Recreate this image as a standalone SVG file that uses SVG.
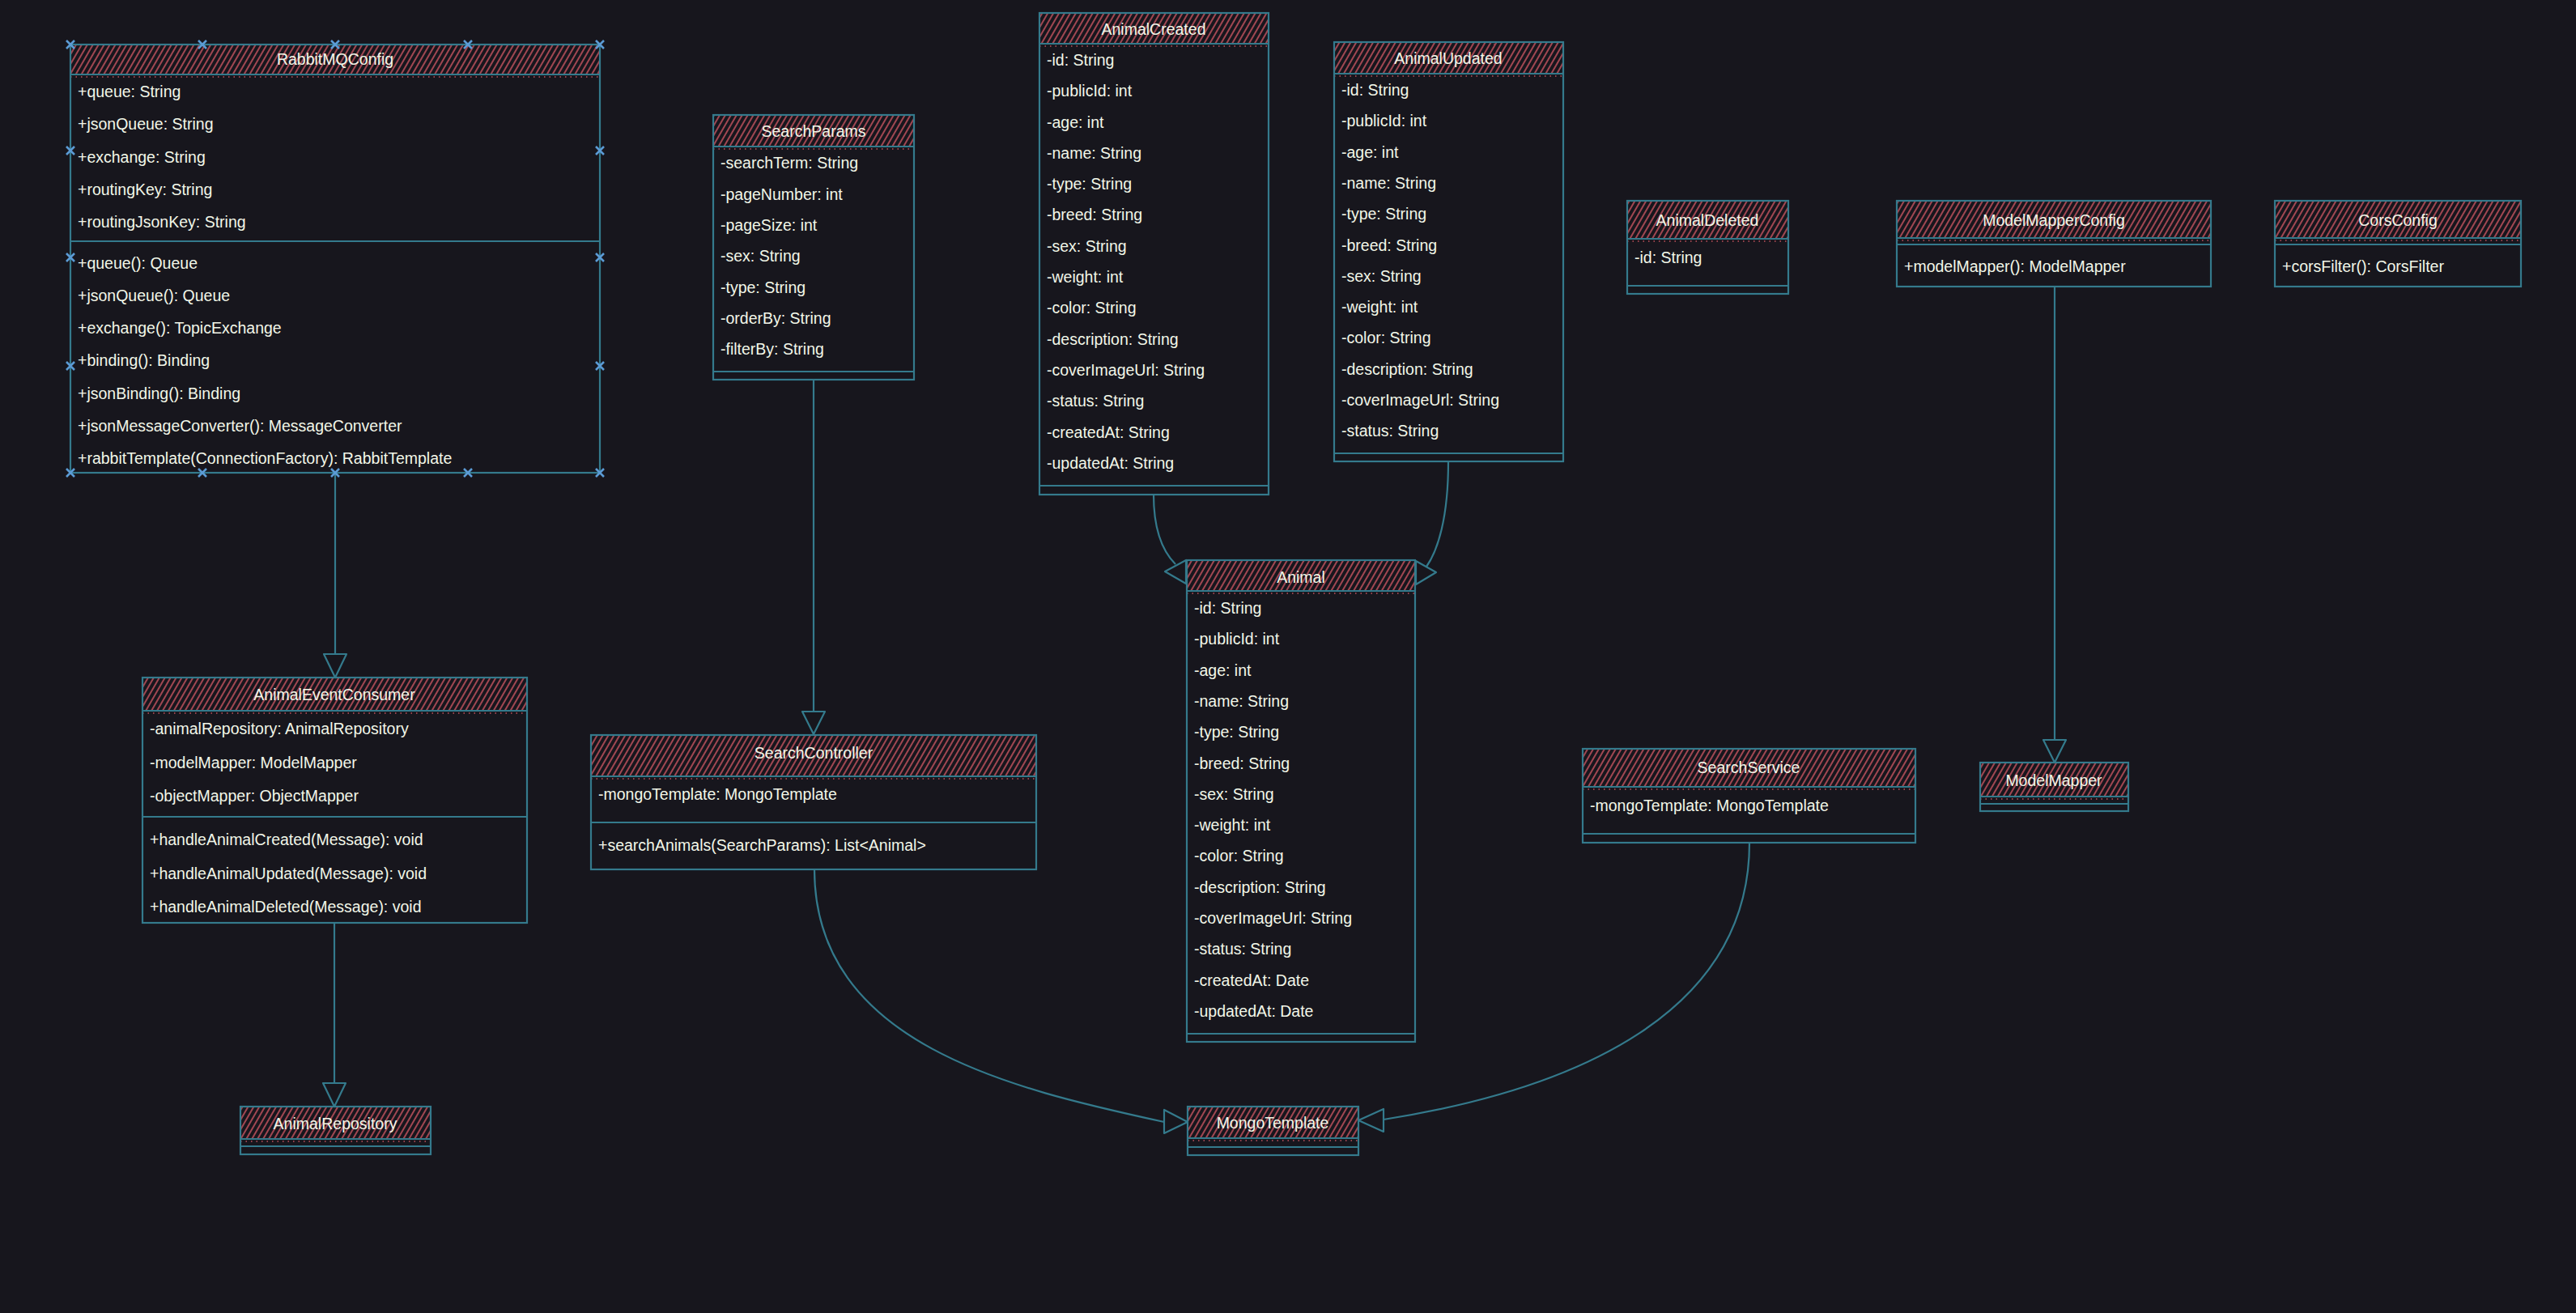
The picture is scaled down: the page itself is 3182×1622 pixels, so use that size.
<svg xmlns="http://www.w3.org/2000/svg" xmlns:xlink="http://www.w3.org/1999/xlink" width="3182" height="1622" viewBox="0 0 3182 1622">
<style>
.box{fill:none;stroke:#347a8c;stroke-width:2.2}
.sep{stroke:#347a8c;stroke-width:2.2}
.hdr{fill:url(#hatch);stroke:none}
.tick{stroke:#c4545f;stroke-width:1.6;stroke-dasharray:1.5 5}
.title{font-family:"Liberation Sans",Arial,sans-serif;font-size:19.5px;fill:#f2f6e8;text-anchor:middle}
.m{font-family:"Liberation Sans",Arial,sans-serif;font-size:19.5px;fill:#f2f6e8}
.edge{fill:none;stroke:#347a8c;stroke-width:2.2}
.head{fill:#17161d;stroke:#347a8c;stroke-width:2.2;stroke-linejoin:round}
.xm{fill:none;stroke:#5b9bd5;stroke-width:2.6}
</style>
<defs>
<pattern id="hatch" width="6" height="6" patternUnits="userSpaceOnUse" patternTransform="rotate(30)">
<line x1="1" y1="0" x2="1" y2="6" stroke="#c4545f" stroke-width="1.6"/>
</pattern>
<path id="xmark" class="xm" d="M-5,-5 L5,5 M-5,5 L5,-5"/>
</defs>
<rect x="0" y="0" width="3182" height="1622" fill="#17161d"/>

<g id="connectors">
<path class="edge" d="M414,584 L414,808"/>
<polygon class="head" points="400,808 428,808 414,837"/>
<path class="edge" d="M1005,469 L1005,879"/>
<polygon class="head" points="991,879 1019,879 1005,907"/>
<path class="edge" d="M413,1140 L413,1338"/>
<polygon class="head" points="399,1338 427,1338 413,1367"/>
<path class="edge" d="M2538,354 L2538,914"/>
<polygon class="head" points="2524,914 2552,914 2538,942"/>
<path class="edge" d="M1425,611 C1425,660 1440,685 1452,697"/>
<polygon class="head" points="1439,706 1465,692 1465,721"/>
<path class="edge" d="M1789,570 C1789,640 1776,680 1762,700"/>
<polygon class="head" points="1774,707 1749,693 1749,722"/>
<path class="edge" d="M1006,1074 C1006,1290 1250,1345 1438,1386"/>
<polygon class="head" points="1467,1386 1438,1371 1438,1400"/>
<path class="edge" d="M2161,1041 C2161,1250 1950,1345 1709,1383"/>
<polygon class="head" points="1678,1384 1709,1370 1709,1398"/>
</g>

<g id="RabbitMQConfig">
<rect class="hdr" x="87" y="55" width="654" height="37"/>
<line class="tick" x1="87" y1="95" x2="741" y2="95"/>
<rect class="box" x="87" y="55" width="654" height="529"/>
<line class="sep" x1="87" y1="92" x2="741" y2="92"/>
<line class="sep" x1="87" y1="298" x2="741" y2="298"/>
<text class="title" x="414" y="80">RabbitMQConfig</text>
<text class="m" x="96" y="120">+queue: String</text>
<text class="m" x="96" y="160">+jsonQueue: String</text>
<text class="m" x="96" y="201">+exchange: String</text>
<text class="m" x="96" y="241">+routingKey: String</text>
<text class="m" x="96" y="281">+routingJsonKey: String</text>
<text class="m" x="96" y="332">+queue(): Queue</text>
<text class="m" x="96" y="372">+jsonQueue(): Queue</text>
<text class="m" x="96" y="412">+exchange(): TopicExchange</text>
<text class="m" x="96" y="452">+binding(): Binding</text>
<text class="m" x="96" y="493">+jsonBinding(): Binding</text>
<text class="m" x="96" y="533">+jsonMessageConverter(): MessageConverter</text>
<text class="m" x="96" y="573">+rabbitTemplate(ConnectionFactory): RabbitTemplate</text>
<use href="#xmark" x="87" y="55"/><use href="#xmark" x="250" y="55"/><use href="#xmark" x="414" y="55"/><use href="#xmark" x="578" y="55"/><use href="#xmark" x="741" y="55"/>
<use href="#xmark" x="87" y="584"/><use href="#xmark" x="250" y="584"/><use href="#xmark" x="414" y="584"/><use href="#xmark" x="578" y="584"/><use href="#xmark" x="741" y="584"/>
<use href="#xmark" x="87" y="186"/><use href="#xmark" x="87" y="318"/><use href="#xmark" x="87" y="452"/>
<use href="#xmark" x="741" y="186"/><use href="#xmark" x="741" y="318"/><use href="#xmark" x="741" y="452"/>
</g>

<g id="SearchParams">
<rect class="hdr" x="881" y="142" width="248" height="39"/>
<line class="tick" x1="881" y1="184" x2="1129" y2="184"/>
<rect class="box" x="881" y="142" width="248" height="327"/>
<line class="sep" x1="881" y1="181" x2="1129" y2="181"/>
<line class="sep" x1="881" y1="459" x2="1129" y2="459"/>
<text class="title" x="1005" y="169">SearchParams</text>
<text class="m" x="890" y="208">-searchTerm: String</text>
<text class="m" x="890" y="247">-pageNumber: int</text>
<text class="m" x="890" y="285">-pageSize: int</text>
<text class="m" x="890" y="323">-sex: String</text>
<text class="m" x="890" y="362">-type: String</text>
<text class="m" x="890" y="400">-orderBy: String</text>
<text class="m" x="890" y="438">-filterBy: String</text>
</g>

<g id="AnimalCreated">
<rect class="hdr" x="1284" y="16" width="283" height="38"/>
<line class="tick" x1="1284" y1="57" x2="1567" y2="57"/>
<rect class="box" x="1284" y="16" width="283" height="595"/>
<line class="sep" x1="1284" y1="54" x2="1567" y2="54"/>
<line class="sep" x1="1284" y1="600" x2="1567" y2="600"/>
<text class="title" x="1425" y="43">AnimalCreated</text>
<text class="m" x="1293" y="81">-id: String</text>
<text class="m" x="1293" y="119">-publicId: int</text>
<text class="m" x="1293" y="158">-age: int</text>
<text class="m" x="1293" y="196">-name: String</text>
<text class="m" x="1293" y="234">-type: String</text>
<text class="m" x="1293" y="272">-breed: String</text>
<text class="m" x="1293" y="311">-sex: String</text>
<text class="m" x="1293" y="349">-weight: int</text>
<text class="m" x="1293" y="387">-color: String</text>
<text class="m" x="1293" y="426">-description: String</text>
<text class="m" x="1293" y="464">-coverImageUrl: String</text>
<text class="m" x="1293" y="502">-status: String</text>
<text class="m" x="1293" y="541">-createdAt: String</text>
<text class="m" x="1293" y="579">-updatedAt: String</text>
</g>

<g id="AnimalUpdated">
<rect class="hdr" x="1648" y="52" width="283" height="39"/>
<line class="tick" x1="1648" y1="94" x2="1931" y2="94"/>
<rect class="box" x="1648" y="52" width="283" height="518"/>
<line class="sep" x1="1648" y1="91" x2="1931" y2="91"/>
<line class="sep" x1="1648" y1="560" x2="1931" y2="560"/>
<text class="title" x="1789" y="79">AnimalUpdated</text>
<text class="m" x="1657" y="118">-id: String</text>
<text class="m" x="1657" y="156">-publicId: int</text>
<text class="m" x="1657" y="195">-age: int</text>
<text class="m" x="1657" y="233">-name: String</text>
<text class="m" x="1657" y="271">-type: String</text>
<text class="m" x="1657" y="310">-breed: String</text>
<text class="m" x="1657" y="348">-sex: String</text>
<text class="m" x="1657" y="386">-weight: int</text>
<text class="m" x="1657" y="424">-color: String</text>
<text class="m" x="1657" y="463">-description: String</text>
<text class="m" x="1657" y="501">-coverImageUrl: String</text>
<text class="m" x="1657" y="539">-status: String</text>
</g>

<g id="Animal">
<rect class="hdr" x="1466" y="692" width="282" height="38"/>
<line class="tick" x1="1466" y1="733" x2="1748" y2="733"/>
<rect class="box" x="1466" y="692" width="282" height="595"/>
<line class="sep" x1="1466" y1="730" x2="1748" y2="730"/>
<line class="sep" x1="1466" y1="1277" x2="1748" y2="1277"/>
<text class="title" x="1607" y="720">Animal</text>
<text class="m" x="1475" y="758">-id: String</text>
<text class="m" x="1475" y="796">-publicId: int</text>
<text class="m" x="1475" y="835">-age: int</text>
<text class="m" x="1475" y="873">-name: String</text>
<text class="m" x="1475" y="911">-type: String</text>
<text class="m" x="1475" y="950">-breed: String</text>
<text class="m" x="1475" y="988">-sex: String</text>
<text class="m" x="1475" y="1026">-weight: int</text>
<text class="m" x="1475" y="1064">-color: String</text>
<text class="m" x="1475" y="1103">-description: String</text>
<text class="m" x="1475" y="1141">-coverImageUrl: String</text>
<text class="m" x="1475" y="1179">-status: String</text>
<text class="m" x="1475" y="1218">-createdAt: Date</text>
<text class="m" x="1475" y="1256">-updatedAt: Date</text>
</g>

<g id="AnimalEventConsumer">
<rect class="hdr" x="176" y="837" width="475" height="41"/>
<line class="tick" x1="176" y1="881" x2="651" y2="881"/>
<rect class="box" x="176" y="837" width="475" height="303"/>
<line class="sep" x1="176" y1="878" x2="651" y2="878"/>
<line class="sep" x1="176" y1="1009" x2="651" y2="1009"/>
<text class="title" x="413" y="865">AnimalEventConsumer</text>
<text class="m" x="185" y="907">-animalRepository: AnimalRepository</text>
<text class="m" x="185" y="949">-modelMapper: ModelMapper</text>
<text class="m" x="185" y="990">-objectMapper: ObjectMapper</text>
<text class="m" x="185" y="1044">+handleAnimalCreated(Message): void</text>
<text class="m" x="185" y="1086">+handleAnimalUpdated(Message): void</text>
<text class="m" x="185" y="1127">+handleAnimalDeleted(Message): void</text>
</g>

<g id="SearchController">
<rect class="hdr" x="730" y="908" width="550" height="51"/>
<line class="tick" x1="730" y1="962" x2="1280" y2="962"/>
<rect class="box" x="730" y="908" width="550" height="166"/>
<line class="sep" x1="730" y1="959" x2="1280" y2="959"/>
<line class="sep" x1="730" y1="1016" x2="1280" y2="1016"/>
<text class="title" x="1005" y="937">SearchController</text>
<text class="m" x="739" y="988">-mongoTemplate: MongoTemplate</text>
<text class="m" x="739" y="1051">+searchAnimals(SearchParams): List&lt;Animal&gt;</text>
</g>

<g id="MongoTemplate">
<rect class="hdr" x="1467" y="1367" width="211" height="39"/>
<line class="tick" x1="1467" y1="1409" x2="1678" y2="1409"/>
<rect class="box" x="1467" y="1367" width="211" height="60"/>
<line class="sep" x1="1467" y1="1406" x2="1678" y2="1406"/>
<line class="sep" x1="1467" y1="1417" x2="1678" y2="1417"/>
<text class="title" x="1572" y="1394">MongoTemplate</text>
</g>

<g id="SearchService">
<rect class="hdr" x="1955" y="925" width="411" height="47"/>
<line class="tick" x1="1955" y1="975" x2="2366" y2="975"/>
<rect class="box" x="1955" y="925" width="411" height="116"/>
<line class="sep" x1="1955" y1="972" x2="2366" y2="972"/>
<line class="sep" x1="1955" y1="1030" x2="2366" y2="1030"/>
<text class="title" x="2160" y="955">SearchService</text>
<text class="m" x="1964" y="1002">-mongoTemplate: MongoTemplate</text>
</g>

<g id="AnimalDeleted">
<rect class="hdr" x="2010" y="248" width="199" height="47"/>
<line class="tick" x1="2010" y1="298" x2="2209" y2="298"/>
<rect class="box" x="2010" y="248" width="199" height="115"/>
<line class="sep" x1="2010" y1="295" x2="2209" y2="295"/>
<line class="sep" x1="2010" y1="353" x2="2209" y2="353"/>
<text class="title" x="2109" y="279">AnimalDeleted</text>
<text class="m" x="2019" y="325">-id: String</text>
</g>

<g id="ModelMapperConfig">
<rect class="hdr" x="2343" y="248" width="388" height="46"/>
<line class="tick" x1="2343" y1="297" x2="2731" y2="297"/>
<rect class="box" x="2343" y="248" width="388" height="106"/>
<line class="sep" x1="2343" y1="294" x2="2731" y2="294"/>
<line class="sep" x1="2343" y1="302" x2="2731" y2="302"/>
<text class="title" x="2537" y="279">ModelMapperConfig</text>
<text class="m" x="2352" y="336">+modelMapper(): ModelMapper</text>
</g>

<g id="CorsConfig">
<rect class="hdr" x="2810" y="248" width="304" height="46"/>
<line class="tick" x1="2810" y1="297" x2="3114" y2="297"/>
<rect class="box" x="2810" y="248" width="304" height="106"/>
<line class="sep" x1="2810" y1="294" x2="3114" y2="294"/>
<line class="sep" x1="2810" y1="302" x2="3114" y2="302"/>
<text class="title" x="2962" y="279">CorsConfig</text>
<text class="m" x="2819" y="336">+corsFilter(): CorsFilter</text>
</g>

<g id="ModelMapper">
<rect class="hdr" x="2446" y="942" width="183" height="42"/>
<line class="tick" x1="2446" y1="987" x2="2629" y2="987"/>
<rect class="box" x="2446" y="942" width="183" height="60"/>
<line class="sep" x1="2446" y1="984" x2="2629" y2="984"/>
<line class="sep" x1="2446" y1="993" x2="2629" y2="993"/>
<text class="title" x="2537" y="971">ModelMapper</text>
</g>

<g id="AnimalRepository">
<rect class="hdr" x="297" y="1367" width="235" height="40"/>
<line class="tick" x1="297" y1="1410" x2="532" y2="1410"/>
<rect class="box" x="297" y="1367" width="235" height="59"/>
<line class="sep" x1="297" y1="1407" x2="532" y2="1407"/>
<line class="sep" x1="297" y1="1416" x2="532" y2="1416"/>
<text class="title" x="414" y="1395">AnimalRepository</text>
</g>
</svg>
